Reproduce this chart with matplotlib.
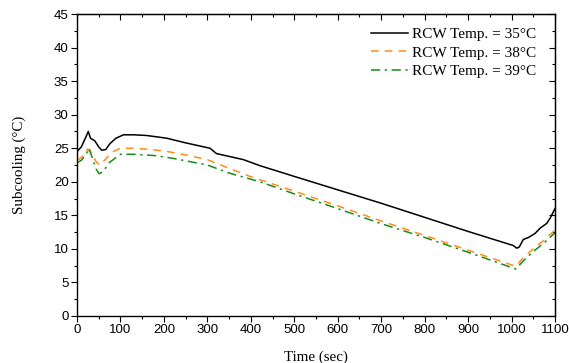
import matplotlib
matplotlib.use('Agg')
import matplotlib.pyplot as plt
from matplotlib.ticker import MultipleLocator

# Time (sec) and subcooling (°C)
t35 = [0, 10, 20, 26, 31, 41, 50, 57, 66, 76, 90, 107, 130, 160, 206, 250, 306, 321, 383, 421,
       500, 600, 700, 800, 900, 1004, 1012, 1018, 1027, 1039, 1054, 1066, 1081, 1089, 1100]
s35 = [24.5, 25.2, 26.6, 27.5, 26.5, 26.1, 25.2, 24.7, 24.8, 25.7, 26.5, 27.0, 27.0, 26.9, 26.5, 25.8, 25.0, 24.2, 23.3, 22.4,
       20.8, 18.8, 16.8, 14.7, 12.6, 10.5, 10.1, 10.3, 11.4, 11.7, 12.3, 13.1, 13.8, 14.6, 16.0]

t38 = [0, 10, 25, 35, 45, 53, 65, 80, 100, 130, 170, 200, 250, 300, 350, 398, 500, 600, 698,
       800, 900, 1010, 1027, 1050, 1075, 1100]
s38 = [23.2, 23.6, 24.9, 24.0, 22.9, 22.5, 23.3, 24.4, 25.0, 25.0, 24.8, 24.6, 24.0, 23.3, 22.0, 20.8, 18.6, 16.4, 14.2,
       12.0, 9.8, 7.4, 8.7, 10.0, 11.3, 12.8]

t39 = [0, 10, 20, 28, 35, 44, 51, 60, 75, 100, 130, 180, 220, 300, 350, 421, 500, 600, 698,
       800, 900, 1010, 1027, 1050, 1075, 1100]
s39 = [22.8, 23.2, 24.0, 25.0, 23.6, 21.9, 21.2, 21.5, 22.9, 24.1, 24.1, 23.9, 23.5, 22.5, 21.3, 20.0, 18.2, 16.0, 13.8,
       11.7, 9.5, 7.0, 8.2, 9.6, 10.9, 12.4]

labels = ['RCW Temp. = 35°C', 'RCW Temp. = 38°C', 'RCW Temp. = 39°C']

fig = plt.figure(figsize=(5.69, 3.63), dpi=100)
ax = fig.add_axes([0.1353, 0.1295, 0.9754 - 0.1353, 0.9614 - 0.1295])

ax.plot(t35, s35, color='black', lw=1.1, label=labels[0])
ax.plot(t38, s38, color='#ff8c1a', lw=1.1, ls=(0, (5, 4)), label=labels[1])
ax.plot(t39, s39, color='#1a8a1a', lw=1.1, ls=(0, (6, 3, 1.5, 3)), label=labels[2])

ax.set_xlim(0, 1100)
ax.set_ylim(0, 45)
ax.xaxis.set_major_locator(MultipleLocator(100))
ax.xaxis.set_minor_locator(MultipleLocator(50))
ax.yaxis.set_major_locator(MultipleLocator(5))
ax.yaxis.set_minor_locator(MultipleLocator(2.5))

ax.tick_params(which='both', direction='out', width=0.8, labelsize=9.5, pad=2)
ax.tick_params(which='major', length=4)
ax.tick_params(which='minor', length=2.5)
for lab in ax.get_xticklabels() + ax.get_yticklabels():
    lab.set_family('Liberation Sans')

# mirrored inward ticks on top and right
ax2 = ax.secondary_xaxis('top')
ax2.xaxis.set_major_locator(MultipleLocator(100))
ax2.xaxis.set_minor_locator(MultipleLocator(50))
ax2.tick_params(which='both', direction='in', labeltop=False, width=0.8)
ax2.tick_params(which='major', length=4)
ax2.tick_params(which='minor', length=2.5)
ay2 = ax.secondary_yaxis('right')
ay2.yaxis.set_major_locator(MultipleLocator(5))
ay2.yaxis.set_minor_locator(MultipleLocator(2.5))
ay2.tick_params(which='both', direction='in', labelright=False, width=0.8)
ay2.tick_params(which='major', length=4)
ay2.tick_params(which='minor', length=2.5)

for sp in ax.spines.values():
    sp.set_linewidth(1.0)

ax.set_xlabel('Time (sec)', family='Liberation Serif', fontsize=10.8, labelpad=10)
ax.set_ylabel('Subcooling (°C)', family='Liberation Serif', fontsize=10.8, labelpad=20)

leg = ax.legend(loc='upper right', bbox_to_anchor=(0.99, 1.0), frameon=False,
                prop={'family': 'Liberation Serif', 'size': 11},
                handlelength=2.4, handletextpad=0.3, labelspacing=0.3, borderaxespad=0.5)

plt.savefig('out.png', dpi=100)
